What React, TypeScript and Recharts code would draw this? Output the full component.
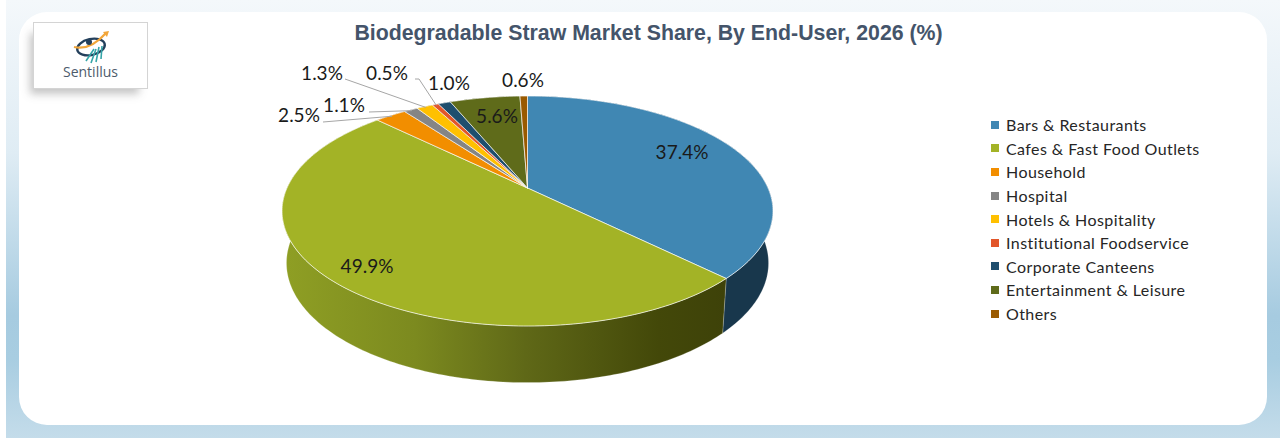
import { PieChart, Pie, Cell, Legend } from 'recharts';

const SEGMENTS = [
  'Bars & Restaurants',
  'Cafes & Fast Food Outlets',
  'Household',
  'Hospital',
  'Hotels & Hospitality',
  'Institutional Foodservice',
  'Corporate Canteens',
  'Entertainment & Leisure',
  'Others',
];
const SHARES = [37.4, 49.9, 2.5, 1.1, 1.3, 0.5, 1.0, 5.6, 0.6];

const COLORS = ['#4087b3', '#a3b326', '#f28e00', '#858585', '#ffc000', '#e2562a', '#1f4e6e', '#5f6b1a', '#9a5a00'];
const WALL_COLORS = ['#18374c', 'url(#cafesWall)', '#7a4700', '#444444', '#806000', '#712b15', '#102737', '#30360d', '#4d2d00'];

// where each value label sits, and the elbow of its leader when it has one
const LABEL_SPOTS = [
  { x: 682, y: 159 },
  { x: 367, y: 273 },
  { x: 299, y: 122, from: [323, 122] },
  { x: 344, y: 112, from: [369, 112] },
  { x: 322, y: 80, from: [345, 79] },
  { x: 387, y: 80, from: [415, 79], elbow: [419, 79] },
  { x: 449, y: 90 },
  { x: 497, y: 123 },
  { x: 523, y: 87 },
];

// circle -> tilted disc, near edge larger than far edge
const SQUASH = 0.459;
const PERSPECTIVE = 0.2;
const DEPTH = 52;

const project = (cx: number, cy: number, r: number, deg: number) => {
  const rad = (deg * Math.PI) / 180;
  const u = Math.cos(rad);
  const v = -Math.sin(rad);
  const w = 1 - PERSPECTIVE * v;
  return [cx + (r * u) / w, cy + (r * SQUASH * v) / w];
};

const arcPoints = (cx: number, cy: number, r: number, start: number, end: number) => {
  const steps = Math.max(2, Math.ceil(Math.abs(end - start)));
  const pts: number[][] = [];
  for (let i = 0; i <= steps; i++) {
    pts.push(project(cx, cy, r, start + ((end - start) * i) / steps));
  }
  return pts;
};

const toPath = (pts: number[][]) => 'M' + pts.map((p) => `${p[0].toFixed(2)},${p[1].toFixed(2)}`).join('L') + 'Z';

const TopSlice = (props: any) => {
  const { cx, cy, outerRadius, startAngle, endAngle, fill } = props;
  const pts = [[cx, cy], ...arcPoints(cx, cy, outerRadius, startAngle, endAngle)];
  return <path d={toPath(pts)} fill={fill} stroke="#ffffff" strokeOpacity={0.65} strokeWidth={1} />;
};

const WallSlice = (props: any) => {
  const { cx, cy, outerRadius, startAngle, endAngle, fill } = props;
  const top = arcPoints(cx, cy, outerRadius, startAngle, endAngle);
  // bottom rim shrinks a little towards the back of the picture
  const bottom = top
    .map((p) => [cx + (p[0] - cx) * 0.982, p[1] + DEPTH + (p[1] - cy - 23) * 0.04])
    .reverse();
  return <path d={toPath([...top, ...bottom])} fill={fill} stroke="#ffffff" strokeOpacity={0.35} strokeWidth={0.6} />;
};

const renderLabel = (props: any) => {
  const { cx, cy, outerRadius, midAngle, index, value } = props;
  const spot = LABEL_SPOTS[index];
  const end = project(cx, cy, outerRadius * 0.99, midAngle);
  const line = spot.from ? [spot.from, ...(spot.elbow ? [spot.elbow] : []), end] : null;
  return (
    <g key={index}>
      {line && <polyline points={line.map((p) => p.join(',')).join(' ')} fill="none" stroke="#a6a6a6" strokeWidth={1} />}
      <text x={spot.x} y={spot.y} textAnchor="middle" fontFamily="Lato" fontSize={19} fill="#1a1a1a">
        {value.toFixed(1)}%
      </text>
    </g>
  );
};

const renderLegend = (props: any) => (
  <div>
    {props.payload
      .filter((entry: any) => entry.type !== 'none')
      .map((entry: any) => (
        <div key={entry.value} style={{ display: 'flex', alignItems: 'center', height: 23.6 }}>
          <span style={{ width: 8, height: 8, background: entry.color, marginRight: 7 }} />
          <span style={{ fontFamily: 'Lato', fontSize: 16, letterSpacing: 0.42, color: '#262626', whiteSpace: 'nowrap' }}>
            {entry.value}
          </span>
        </div>
      ))}
  </div>
);

const Logo = () => (
  <div
    style={{
      position: 'absolute',
      left: 33,
      top: 22,
      width: 113,
      height: 65,
      background: '#fff',
      border: '1.5px solid #d4d4d4',
      boxShadow: '-6px 8px 8px -3px rgba(90,90,90,0.35)',
    }}
  >
    <svg width={113} height={44} style={{ position: 'absolute', left: 0, top: 0 }}>
      <ellipse cx={57} cy={24} rx={14} ry={8} fill="none" stroke="#24405c" strokeWidth={2.4} transform="rotate(-12 57 24)" />
      <path d="M40 24 Q56 28 72 10" fill="none" stroke="#f2a63a" strokeWidth={2.2} />
      <path d="M69 9 L75 8 L73 14 Z" fill="#f2a63a" />
      <path d="M60 26 L52 38 M62 26 L57 40 M65 24 L62 39 M68 23 L67 36" stroke="#35a5a8" strokeWidth={1.6} fill="none" />
      <circle cx={55} cy={19} r={3} fill="#24405c" />
    </svg>
    <div
      style={{
        position: 'absolute',
        left: 0,
        right: 0,
        top: 39,
        textAlign: 'center',
        fontFamily: 'Open Sans',
        fontSize: 14,
        color: '#4d5b6b',
      }}
    >
      Sentillus
    </div>
  </div>
);

export default function App() {
  const data = SEGMENTS.map((name, i) => ({ name, value: SHARES[i] }));

  return (
    <div style={{ position: 'absolute', left: 0, top: 0, width: 1280, height: 438, background: '#fff', overflow: 'hidden' }}>
      <div
        style={{
          position: 'absolute',
          left: 6,
          top: 0,
          right: 0,
          bottom: 0,
          background: 'linear-gradient(180deg, #f4f8fb 0%, #dfecf4 35%, #a6cbe0 72%, #a8cde1 82%, #c4dcea 100%)',
        }}
      />
      <div style={{ position: 'absolute', left: 19, top: 12, width: 1248, height: 413, background: '#fff', borderRadius: 28 }} />
      <Logo />
      <div
        style={{
          position: 'absolute',
          left: 19,
          width: 1259,
          top: 21,
          textAlign: 'center',
          fontFamily: 'Liberation Sans',
          fontWeight: 700,
          fontSize: 21.3,
          color: '#44546a',
        }}
      >
        Biodegradable Straw Market Share, By End-User, 2026 (%)
      </div>
      <div style={{ position: 'absolute', left: 0, top: 0 }}>
        <PieChart width={1280} height={438} margin={{ top: 0, right: 0, bottom: 0, left: 0 }}>
          <defs>
            <linearGradient id="cafesWall" gradientUnits="userSpaceOnUse" x1={282} y1={0} x2={725} y2={0}>
              <stop offset="0%" stopColor="#8f9f24" />
              <stop offset="30%" stopColor="#7c8a1f" />
              <stop offset="55%" stopColor="#5f6817" />
              <stop offset="85%" stopColor="#434809" />
              <stop offset="100%" stopColor="#3e4209" />
            </linearGradient>
          </defs>
          <Pie
            data={data}
            dataKey="value"
            nameKey="name"
            cx={527.5}
            cy={188}
            outerRadius={240.5}
            startAngle={90}
            endAngle={-270}
            legendType="none"
            label={false}
            labelLine={false}
            stroke="none"
            shape={WallSlice}
            isAnimationActive={false}
          >
            {data.map((entry, index) => (
              <Cell key={`wall-${index}`} fill={WALL_COLORS[index]} />
            ))}
          </Pie>
          <Pie
            data={data}
            dataKey="value"
            nameKey="name"
            cx={527.5}
            cy={188}
            outerRadius={240.5}
            startAngle={90}
            endAngle={-270}
            label={renderLabel}
            labelLine={false}
            shape={TopSlice}
            isAnimationActive={false}
          >
            {data.map((entry, index) => (
              <Cell key={`cell-${index}`} fill={COLORS[index]} />
            ))}
          </Pie>
          <Legend
            layout="vertical"
            content={renderLegend}
            itemSorter={null}
            wrapperStyle={{ position: 'absolute', left: 991, top: 113, width: 240 }}
          />
        </PieChart>
      </div>
    </div>
  );
}
